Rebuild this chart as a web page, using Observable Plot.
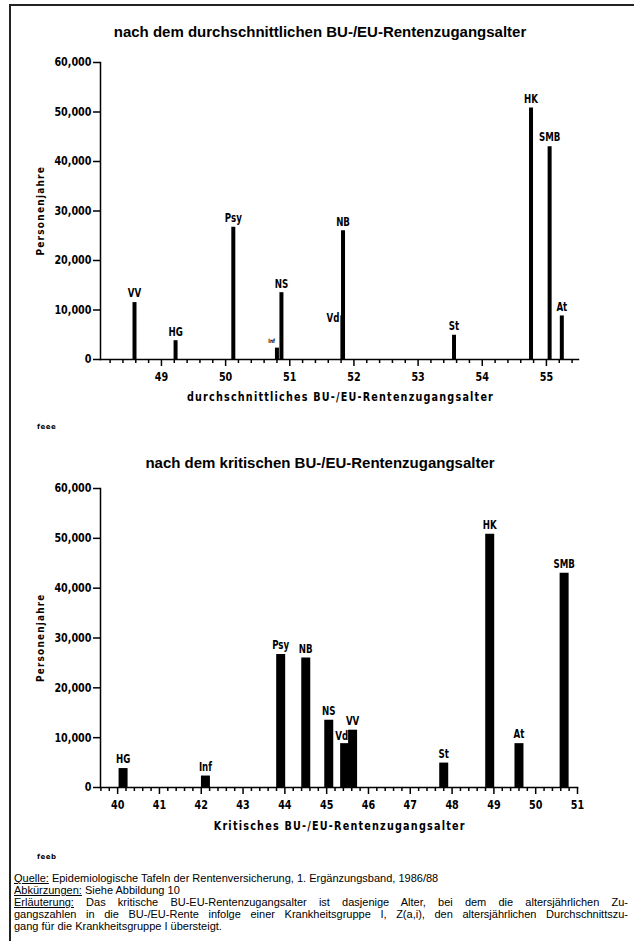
<!DOCTYPE html>
<html>
<head>
<meta charset="utf-8">
<script src="https://cdn.jsdelivr.net/npm/d3@7"></script>
<script src="https://cdn.jsdelivr.net/npm/@observablehq/plot@0.6"></script>
<style>
  html, body { margin: 0; padding: 0; background: #fff; }
  #page { position: relative; width: 634px; height: 941px; overflow: hidden; background: #fff; }
  .frameTop { position: absolute; left: 10px; top: 4px; width: 624px; height: 0; border-top: 2px solid #222; }
  .frameLeft { position: absolute; left: 9px; top: 4px; width: 0; height: 937px; border-left: 2px solid #222; }
  .title { position: absolute; left: 0; width: 640px; text-align: center; font-family: "Liberation Sans", Arial, sans-serif; font-weight: bold; font-size: 15px; color: #000; }
  .plotter { font-family: "DejaVu Sans", sans-serif; font-weight: bold; color: #000; white-space: nowrap; }
  .xlabel { position: absolute; left: 100px; width: 480px; text-align: center; font-size: 12px; }
  .xlabel span, .ylabel span { display: inline-block; letter-spacing: 1.5px; }
  .ylabel { position: absolute; font-size: 11px; transform: rotate(-90deg); transform-origin: center center; width: 140px; text-align: center; }
  .tiny { position: absolute; font-size: 7px; letter-spacing: 0.5px; }
  .chart { position: absolute; left: 0; }
  .caption { position: absolute; left: 14px; top: 872px; width: 614px; font-family: "Liberation Sans", Arial, sans-serif; font-size: 11px; line-height: 12px; color: #000; }
  .caption .j { text-align: justify; text-align-last: justify; white-space: nowrap; }
  .caption u { text-decoration: underline; }
</style>
</head>
<body>
<div id="page">
  <div class="frameTop"></div>
  <div class="frameLeft"></div>
  <div class="title" style="top:23px">nach dem durchschnittlichen BU-/EU-Rentenzugangsalter</div>
  <div class="chart" id="chart1" style="top:40px"></div>
  <div class="plotter xlabel" style="top:390px"><span data-w="307">durchschnittliches BU-/EU-Rentenzugangsalter</span></div>
  <div class="plotter ylabel" style="left:-30px; top:204px"><span data-w="90">Personenjahre</span></div>
  <div class="plotter tiny" style="left:37px; top:423px">feee</div>
  <div class="title" style="top:454px">nach dem kritischen BU-/EU-Rentenzugangsalter</div>
  <div class="chart" id="chart2" style="top:470px"></div>
  <div class="plotter xlabel" style="top:819px"><span data-w="252">Kritisches BU-/EU-Rentenzugangsalter</span></div>
  <div class="plotter ylabel" style="left:-30px; top:631px"><span data-w="89">Personenjahre</span></div>
  <div class="plotter tiny" style="left:37px; top:853px">feeb</div>
  <div class="caption">
    <div><u>Quelle:</u> Epidemiologische Tafeln der Rentenversicherung, 1. Ergänzungsband, 1986/88</div>
    <div><u>Abkürzungen:</u> Siehe Abbildung 10</div>
    <div class="j"><u>Erläuterung:</u> Das kritische BU-EU-Rentenzugangsalter ist dasjenige Alter, bei dem die altersjährlichen Zu-</div>
    <div class="j">gangszahlen in die BU-/EU-Rente infolge einer Krankheitsgruppe I, Z(a,i), den altersjährlichen Durchschnittszu-</div>
    <div>gang für die Krankheitsgruppe I übersteigt.</div>
  </div>
</div>
<script>
// ---- Data ----
const groups = ["VV", "HG", "Psy", "Inf", "NS", "NB", "Vd", "St", "HK", "SMB", "At"];
const personenjahre = [11500, 3800, 26700, 2300, 13500, 26000, 8800, 4900, 50800, 43000, 8800];
const durchschnittAlter = [48.58, 49.22, 50.12, 50.80, 50.87, 51.83, 51.82, 53.56, 54.76, 55.05, 55.24];
const kritischAlter = [45.62, 40.13, 43.90, 42.10, 45.05, 44.50, 45.43, 47.80, 48.90, 50.68, 49.60];
const yTicks = [0, 10000, 20000, 30000, 40000, 50000, 60000];
const xTicksTop = [49, 50, 51, 52, 53, 54, 55];
const xTicksBottom = [40, 41, 42, 43, 44, 45, 46, 47, 48, 49, 50, 51];

const rows = groups.map((g, i) => ({g, v: personenjahre[i], avg: durchschnittAlter[i], krit: kritischAlter[i]}));

const FONT = '"DejaVu Sans", sans-serif';

function minorTicks(lo, hi) {
  const out = [];
  for (let i = Math.ceil(lo * 5); i <= Math.floor(hi * 5); i++) if (i % 5 !== 0) out.push(i / 5);
  return out;
}

function makeChart({xKey, xDomain, xTicks, barWidth, marginTop, marginRight, height, specials}) {
  const normal = rows.filter(d => !(d.g in specials));
  const specialMarks = Object.entries(specials).map(([g, o]) =>
    Plot.text(rows.filter(d => d.g === g), {x: xKey, y: "v", text: "g", fontSize: o.fontSize ?? 12, dx: o.dx, dy: o.dy, textAnchor: o.anchor ?? "middle", fontWeight: "bold", fill: "black"})
  );
  return Plot.plot({
    width: 634,
    height,
    marginTop,
    marginLeft: 100,
    marginRight,
    marginBottom: 50,
    style: {fontFamily: FONT, fontWeight: "bold", color: "black", background: "transparent"},
    x: {domain: xDomain},
    y: {domain: [0, 60000]},
    marks: [
      Plot.ruleX(rows, {x: xKey, y1: 0, y2: "v", stroke: "black", strokeWidth: barWidth}),
      Plot.text(normal, {x: xKey, y: "v", text: "g", dy: -9, fontSize: 12, fontWeight: "bold", fill: "black"}),
      ...specialMarks,
      Plot.frame({anchor: "left", stroke: "black", strokeWidth: 1.5}),
      Plot.frame({anchor: "bottom", stroke: "black", strokeWidth: 1.5}),
      Plot.axisY(yTicks, {tickSize: 7, tickPadding: 2, tickFormat: d3.format(","), fontSize: 12, label: null, strokeWidth: 1.5}),
      Plot.axisX(minorTicks(xDomain[0], xDomain[1]), {tickSize: 4, tickFormat: () => "", label: null, strokeWidth: 1.5}),
      Plot.axisX(xTicks, {tickSize: 7, tickPadding: 6, tickFormat: d => d, fontSize: 12, label: null, strokeWidth: 1.5})
    ]
  });
}

// Emulate the narrow plotter lettering by compressing glyphs horizontally.
function condense(svg) {
  svg.querySelectorAll('g[aria-label$="tick label"] text').forEach(t => {
    const w = t.getComputedTextLength();
    if (w > 0) { t.setAttribute("textLength", (w * 0.8).toFixed(1)); t.setAttribute("lengthAdjust", "spacingAndGlyphs"); }
  });
  svg.querySelectorAll('g[aria-label="text"] text').forEach(t => {
    const w = t.getComputedTextLength();
    if (w > 0) { t.setAttribute("textLength", (w * 0.72).toFixed(1)); t.setAttribute("lengthAdjust", "spacingAndGlyphs"); }
  });
}

const c1 = makeChart({
  xKey: "avg",
  xDomain: [48.05, 55.5],
  xTicks: xTicksTop,
  barWidth: 4,
  marginTop: 22,
  marginRight: 56,
  height: 369,
  specials: {
    Vd: {dx: -3, dy: 2, anchor: "end"},
    Inf: {dx: -2, dy: -7, fontSize: 6, anchor: "end"}
  }
});
document.getElementById("chart1").append(c1);
condense(c1);

const c2 = makeChart({
  xKey: "krit",
  xDomain: [39.59, 51],
  xTicks: xTicksBottom,
  barWidth: 9,
  marginTop: 18,
  marginRight: 57,
  height: 367,
  specials: {
    Vd: {dx: -3, dy: -7}
  }
});
document.getElementById("chart2").append(c2);
condense(c2);

// Fit HTML axis titles to the measured widths of the reference lettering.
document.querySelectorAll("span[data-w]").forEach(s => {
  const w = s.getBoundingClientRect().width;
  const isY = s.parentElement.classList.contains("ylabel");
  const natural = isY ? s.offsetWidth : w;
  s.style.transform = `scaleX(${(+s.dataset.w / natural).toFixed(3)})`;
});
</script>
</body>
</html>
